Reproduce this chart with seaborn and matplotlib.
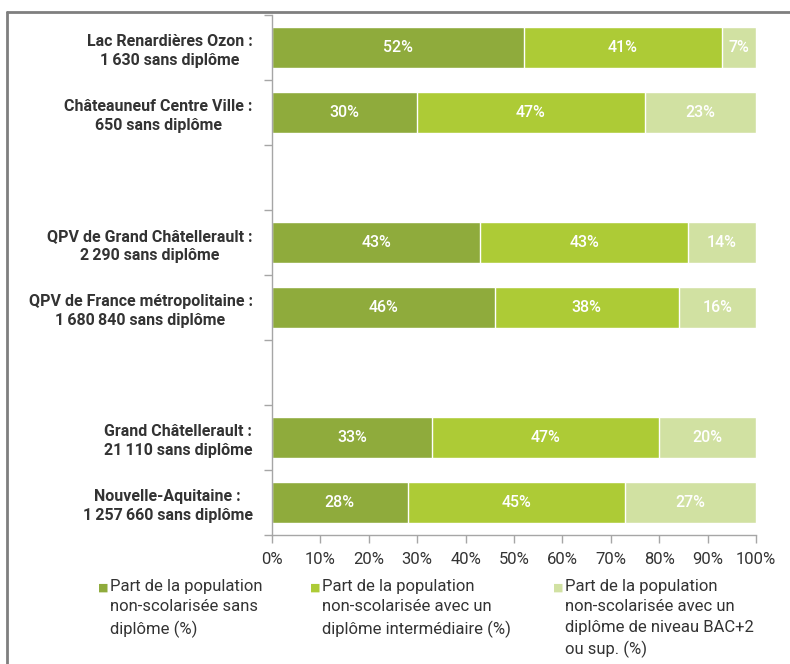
import matplotlib
matplotlib.use("Agg")
import matplotlib.pyplot as plt
import matplotlib.lines as mlines
import seaborn as sns
import pandas as pd
import numpy as np

categories = [
    "Lac Renardières Ozon :\n1\u2009630 sans diplôme",
    "Châteauneuf Centre Ville :\n650 sans diplôme",
    " ",
    "QPV de Grand Châtellerault :\n2\u2009290 sans diplôme",
    "QPV de France métropolitaine :\n1\u2009680\u2009840 sans diplôme",
    "  ",
    "Grand Châtellerault :\n21\u2009110 sans diplôme",
    "Nouvelle-Aquitaine :\n1\u2009257\u2009660 sans diplôme",
]
sans_diplome = [52, 30, None, 43, 46, None, 33, 28]
intermediaire = [41, 47, None, 43, 38, None, 47, 45]
bac2 = [7, 23, None, 14, 16, None, 20, 27]
series_names = [
    "Part de la population\nnon-scolarisée sans\ndiplôme (%)",
    "Part de la population\nnon-scolarisée avec un\ndiplôme intermédiaire (%)",
    "Part de la population\nnon-scolarisée avec un\ndiplôme de niveau BAC+2\nou sup. (%)",
]
colors = ["#8fab3c", "#adcb36", "#d1e1a2"]
xticks = [0, 10, 20, 30, 40, 50, 60, 70, 80, 90, 100]

sns.set_style("white")
plt.rcParams["font.family"] = ["Roboto", "DejaVu Sans"]

df = pd.DataFrame({"cat": categories, "a": sans_diplome, "b": intermediaire, "c": bac2})
df = df.dropna()
df["ab"] = df["a"] + df["b"]
df["abc"] = df["ab"] + df["c"]

fig = plt.figure(figsize=(7.9, 6.64), dpi=100)
ax = fig.add_axes([272 / 790, 1 - 535 / 664, (756 - 272) / 790, (535 - 15) / 664])

for col, c in zip(["abc", "ab", "a"], colors[::-1]):
    sns.barplot(data=df, y="cat", x=col, order=categories, color=c, orient="h",
                width=0.63, edgecolor="white", linewidth=1, saturation=1, ax=ax)

# value labels
pos = {c: i for i, c in enumerate(categories)}
for _, r in df.iterrows():
    y = pos[r["cat"]]
    starts = [0, r["a"], r["ab"]]
    vals = [r["a"], r["b"], r["c"]]
    for s, v in zip(starts, vals):
        ax.text(s + v / 2, y, f"{int(v)}%", ha="center", va="center", color="white",
                fontsize=11.5, fontweight="medium")

ax.set_xlim(0, 100)
ax.set_ylim(len(categories) - 0.5, -0.5)
ax.set_xticks(xticks)
ax.set_xticklabels([f"{t}%" for t in xticks], fontsize=12, color="#333333")
ax.tick_params(axis="x", length=6, color="#a6a6a6", width=1, pad=6, bottom=True)
ax.set_yticks(range(len(categories)))
ax.set_yticklabels(categories, fontsize=11.5, color="#333333", fontweight="bold",
                   multialignment="center", linespacing=1.35)
ax.tick_params(axis="y", length=0, pad=14)
ax.set_yticks(np.arange(-0.5, len(categories), 1.0), minor=True)
ax.tick_params(axis="y", which="minor", length=6, color="#a6a6a6", width=1, left=True)
ax.set_xlabel("")
ax.set_ylabel("")
for s in ["top", "right"]:
    ax.spines[s].set_visible(False)
for s in ["left", "bottom"]:
    ax.spines[s].set_color("#a6a6a6")
    ax.spines[s].set_linewidth(1)
if ax.get_legend():
    ax.get_legend().remove()

# legend
leg_x = [98 / 790, 310 / 790, 553 / 790]
for x, name, c in zip(leg_x, series_names, colors):
    fig.text(x, 1 - 588 / 664, "■", color=c, fontsize=8, ha="left", va="center")
    fig.text(x + 12 / 790, 1 - 579 / 664, name, color="#333333", fontsize=12,
             ha="left", va="top", linespacing=1.45)

# frame
fig.add_artist(mlines.Line2D([7 / 790, 1], [1 - 12 / 664, 1 - 12 / 664], color="#7f7f7f", lw=2))
fig.add_artist(mlines.Line2D([7 / 790, 7 / 790], [0, 1 - 12 / 664], color="#7f7f7f", lw=2))

fig.savefig("out.png", dpi=100)
